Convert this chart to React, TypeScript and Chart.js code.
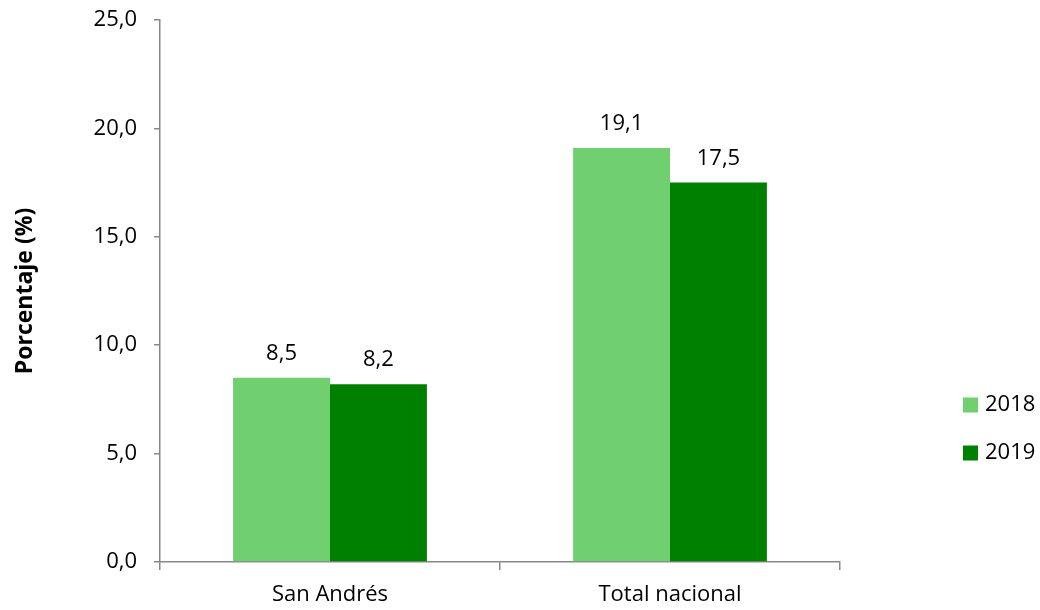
import React, { useEffect, useRef } from "react";
import { Chart, registerables } from "chart.js";

Chart.register(...registerables);

const categories = ["San Andrés", "Total nacional"];
const seriesLabels = ["2018", "2019"];
const values2018 = [8.5, 19.1];
const values2019 = [8.2, 17.5];
const seriesColors = ["#70D070", "#008000"];
const yTitle = "Porcentaje (%)";
const FONT = "'Open Sans', 'Noto Sans', sans-serif";

const fmt = (v: number) => v.toFixed(1).replace(".", ",");

const labelsPlugin = {
  id: "customText",
  afterDatasetsDraw(chart: any) {
    const ctx = chart.ctx;
    ctx.save();
    ctx.fillStyle = "#000";
    ctx.font = `22px ${FONT}`;
    ctx.textAlign = "center";
    ctx.textBaseline = "middle";
    chart.data.datasets.forEach((ds: any, i: number) => {
      const meta = chart.getDatasetMeta(i);
      meta.data.forEach((el: any, j: number) => {
        ctx.fillText(fmt(ds.data[j]), el.x, el.y - 24);
      });
    });
    // y title
    ctx.save();
    ctx.translate(25, (chart.chartArea.top + chart.chartArea.bottom) / 2);
    ctx.rotate(-Math.PI / 2);
    ctx.font = `bold 23px ${FONT}`;
    ctx.fillText(yTitle, 0, 0);
    ctx.restore();
    // legend
    const ys = [405, 453];
    chart.data.datasets.forEach((ds: any, i: number) => {
      ctx.fillStyle = ds.backgroundColor;
      ctx.fillRect(963, ys[i] - 7.5, 15, 15);
      ctx.fillStyle = "#000";
      ctx.textAlign = "left";
      ctx.font = `22px ${FONT}`;
      ctx.fillText(ds.label, 985, ys[i]);
    });
    ctx.restore();
  },
};

export default function App() {
  const ref = useRef<HTMLCanvasElement | null>(null);
  useEffect(() => {
    if (!ref.current) return;
    const chart = new Chart(ref.current, {
      type: "bar",
      data: {
        labels: categories,
        datasets: [
          { label: seriesLabels[0], data: values2018, backgroundColor: seriesColors[0] },
          { label: seriesLabels[1], data: values2019, backgroundColor: seriesColors[1] },
        ],
      },
      options: {
        responsive: false,
        animation: false,
        devicePixelRatio: 1,
        layout: { padding: { top: 20, right: 200, left: 0, bottom: 0 } },
        datasets: { bar: { categoryPercentage: 0.57, barPercentage: 1 } } as any,
        plugins: { legend: { display: false }, tooltip: { enabled: false } },
        scales: {
          x: {
            offset: true,
            grid: { offset: true, drawOnChartArea: false, tickLength: 8, color: "#888888", lineWidth: 1.5 },
            border: { color: "#888888", width: 1.5 },
            ticks: { color: "#000", font: { family: FONT, size: 22 }, padding: 12 },
            afterFit(scale: any) {
              scale.height = 48;
              scale.paddingLeft = 0;
              scale.paddingRight = 0;
            },
          },
          y: {
            min: 0,
            max: 25,
            grid: { drawOnChartArea: false, tickLength: 6, color: "#888888", lineWidth: 1.5 },
            border: { color: "#888888", width: 1.5 },
            ticks: {
              stepSize: 5,
              color: "#000",
              font: { family: FONT, size: 22 },
              padding: 17,
              callback: (v: any) => fmt(Number(v)),
            },
            afterFit(scale: any) {
              scale.width = 160;
              scale.paddingTop = 0;
              scale.paddingBottom = 0;
            },
          },
        },
      },
      plugins: [labelsPlugin],
    });
    return () => chart.destroy();
  }, []);
  return (
    <div style={{ position: "absolute", left: 0, top: 0, width: 1040, height: 610 }}>
      <canvas ref={ref} width={1040} height={610} style={{ display: "block", width: 1040, height: 610 }} />
    </div>
  );
}
